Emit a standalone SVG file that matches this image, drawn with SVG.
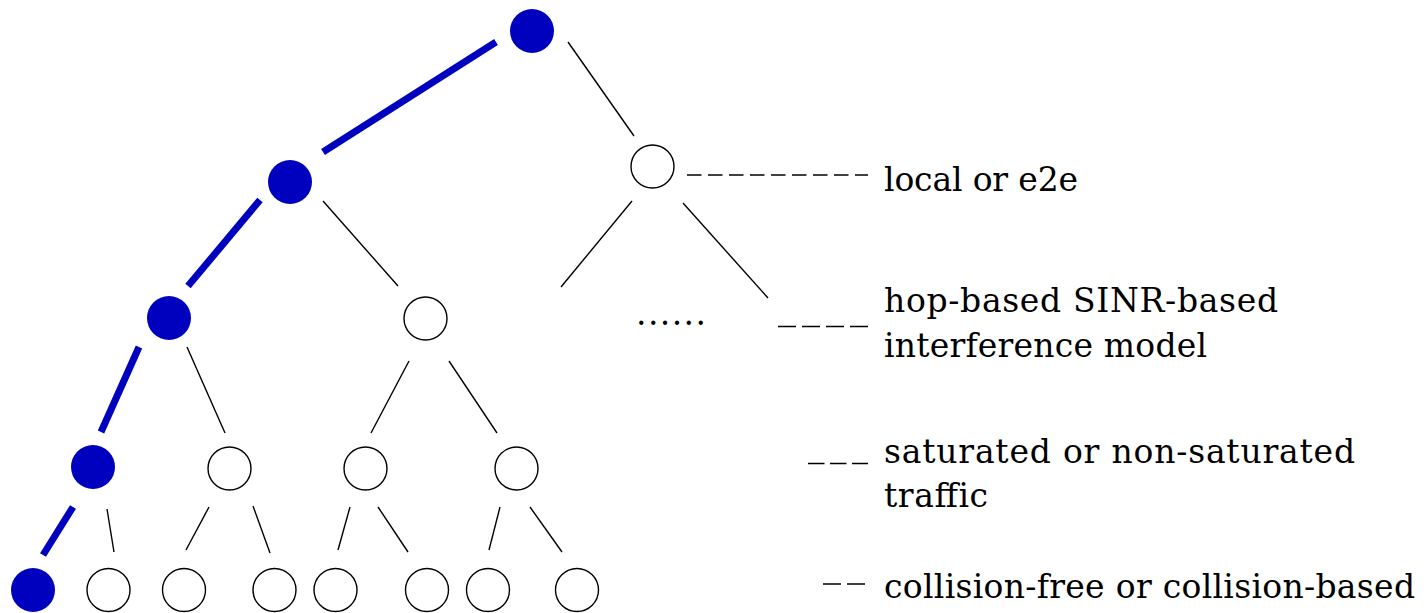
<svg xmlns="http://www.w3.org/2000/svg" width="1427" height="613" viewBox="0 0 1427 613">
<style>
.n{fill:#fff;stroke:#000;stroke-width:1.4}
.b{fill:#0000bf;stroke:none}
.e{stroke:#000;stroke-width:1.4;fill:none}
.eb{stroke:#0000bf;stroke-width:7;fill:none}
.d{stroke:#000;stroke-width:1.4;fill:none}
.t{font-family:"DejaVu Serif","Liberation Serif",serif;font-size:33px;fill:#000}
</style>
<rect width="1427" height="613" fill="#fff"/>
<g id="connectors">
<line class="eb" x1="496" y1="42" x2="323" y2="152"/>
<line class="e" x1="568" y1="42" x2="634" y2="136"/>
<line class="eb" x1="260" y1="200" x2="188" y2="286"/>
<line class="e" x1="323" y1="201" x2="398" y2="286"/>
<line class="e" x1="632" y1="201" x2="561" y2="287"/>
<line class="e" x1="683" y1="203" x2="768" y2="298"/>
<line class="eb" x1="139" y1="347" x2="101" y2="432"/>
<line class="e" x1="187" y1="347" x2="225" y2="433"/>
<line class="e" x1="409" y1="361" x2="371" y2="433"/>
<line class="e" x1="449" y1="361" x2="497" y2="433"/>
<line class="eb" x1="73" y1="507" x2="43" y2="555"/>
<line class="e" x1="107" y1="509" x2="114" y2="552"/>
<line class="e" x1="209" y1="507" x2="186" y2="550"/>
<line class="e" x1="253" y1="506" x2="270" y2="553"/>
<line class="e" x1="350" y1="507" x2="338" y2="550"/>
<line class="e" x1="378" y1="507" x2="408" y2="552"/>
<line class="e" x1="500" y1="507" x2="489" y2="550"/>
<line class="e" x1="530" y1="507" x2="562" y2="552"/>
<line class="d" x1="687" y1="175" x2="868" y2="175" stroke-dasharray="14.5 6.5"/>
<line class="d" x1="778" y1="326.5" x2="868" y2="326.5" stroke-dasharray="18 6"/>
<line class="d" x1="808" y1="463.5" x2="868" y2="463.5" stroke-dasharray="16.5 5.5"/>
<line class="d" x1="823" y1="584" x2="865" y2="584" stroke-dasharray="18 6"/>
</g>
<g id="root"><circle class="b" cx="532" cy="31" r="22"/></g>
<g id="n1a"><circle class="b" cx="290" cy="182" r="22"/></g>
<g id="n1b"><circle class="n" cx="652.5" cy="166.5" r="21.5"/></g>
<g id="n2a"><circle class="b" cx="169" cy="318" r="22"/></g>
<g id="n2b"><circle class="n" cx="425.5" cy="318.5" r="21.5"/></g>
<g id="n3a"><circle class="b" cx="93" cy="467" r="22"/></g>
<g id="n3b"><circle class="n" cx="229.5" cy="468.5" r="21.5"/></g>
<g id="n3c"><circle class="n" cx="365.5" cy="468.5" r="21.5"/></g>
<g id="n3d"><circle class="n" cx="516.5" cy="468.5" r="21.5"/></g>
<g id="n4a"><circle class="b" cx="33" cy="590" r="22"/></g>
<g id="n4b"><circle class="n" cx="108.5" cy="590" r="21.5"/></g>
<g id="n4c"><circle class="n" cx="184" cy="590" r="21.5"/></g>
<g id="n4d"><circle class="n" cx="274.5" cy="590" r="21.5"/></g>
<g id="n4e"><circle class="n" cx="335.5" cy="590" r="21.5"/></g>
<g id="n4f"><circle class="n" cx="427" cy="590" r="21.5"/></g>
<g id="n4g"><circle class="n" cx="488" cy="590" r="21.5"/></g>
<g id="n4h"><circle class="n" cx="577" cy="590" r="21.5"/></g>
<g id="dots"><text class="t" x="636" y="325" textLength="70">......</text></g>
<g id="labels">
<text class="t" x="884" y="191" textLength="194">local or e2e</text>
<text class="t" x="884" y="311.5" textLength="394">hop-based SINR-based</text>
<text class="t" x="884" y="357" textLength="323">interference model</text>
<text class="t" x="884" y="463" textLength="471">saturated or non-saturated</text>
<text class="t" x="884" y="507" textLength="104">traffic</text>
<text class="t" x="884" y="598" textLength="531">collision-free or collision-based</text>
</g>
</svg>
